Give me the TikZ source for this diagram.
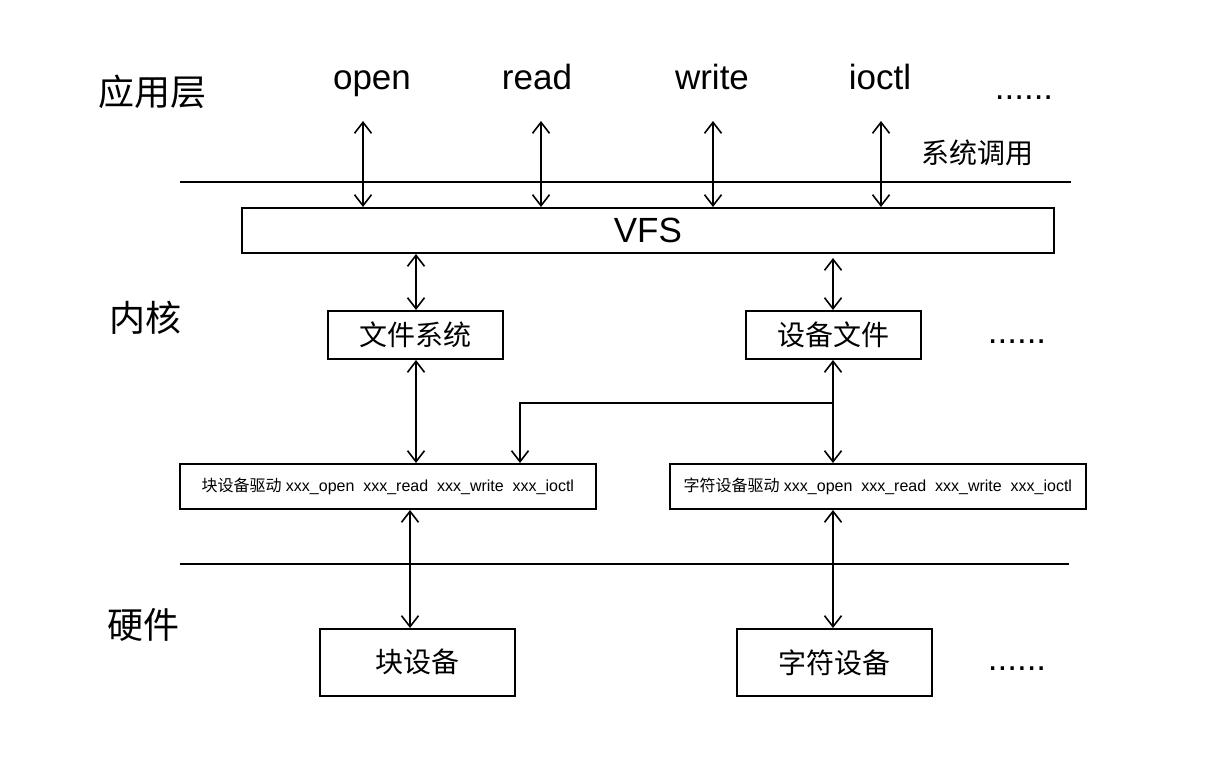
\documentclass[tikz,border=0pt]{standalone}
\usepackage{fontspec}
\setmainfont{Liberation Sans}
\newfontfamily\cjk{Noto Sans CJK SC}
\usetikzlibrary{arrows.meta}
\begin{document}
\begin{tikzpicture}[x=1pt,y=-1pt,
  box/.style={draw,line width=1.6pt,inner sep=0pt,anchor=north west},
  tip/.tip={Straight Barb[length=11pt,width=17pt,line width=1.6pt]},
  conn/.style={line width=1.6pt,tip-tip},
  oneway/.style={line width=1.6pt,-tip},
  sep/.style={line width=1.6pt},
  big/.style={font=\fontsize{35}{38}\selectfont},
  bigc/.style={font=\cjk\fontsize{36}{38}\selectfont},
  mid/.style={font=\cjk\fontsize{28}{30}\selectfont},
  small/.style={font=\fontsize{16}{18}\selectfont}]
\useasboundingbox (0,0) rectangle (1206,771);
% layer labels
\node[bigc] (app) at (152,92) {应用层};
\node[bigc] (kern) at (145,318) {内核};
\node[bigc] (hw) at (143,625) {硬件};
% system calls
\node[big,anchor=base] (open) at (372,89) {open};
\node[big,anchor=base] (read) at (537,89) {read};
\node[big,anchor=base] (write) at (712,89) {write};
\node[big,anchor=base] (ioctl) at (880,89) {ioctl};
\node[big,anchor=base] (dots1) at (1024,99) {......};
\node[mid] (syscall) at (977,153) {系统调用};
% separators
\coordinate (s1a) at (180,182); \coordinate (s1b) at (1071,182);
\draw[sep] (s1a) -- (s1b);
\coordinate (s2a) at (180,564); \coordinate (s2b) at (1069,564);
\draw[sep] (s2a) -- (s2b);
% VFS
\node[box,minimum width=812pt,minimum height=45pt] (vfs) at (241,207) {};
\node[big] at (vfs.center) {VFS};
% kernel boxes
\node[box,minimum width=175pt,minimum height=48pt] (fs) at (327,310) {};
\node[mid] at (fs.center) {文件系统};
\node[box,minimum width=175pt,minimum height=48pt] (devf) at (745,310) {};
\node[mid] at (devf.center) {设备文件};
\node[big,anchor=base] (dots2) at (1017,343) {......};
% drivers
\node[box,minimum width=416pt,minimum height=45pt] (bdrv) at (179,463) {};
\node[small] at (bdrv.center) {{\cjk 块设备驱动} xxx\_open\ \ xxx\_read\ \ xxx\_write\ \ xxx\_ioctl};
\node[box,minimum width=416pt,minimum height=45pt] (cdrv) at (669,463) {};
\node[small] at (cdrv.center) {{\cjk 字符设备驱动} xxx\_open\ \ xxx\_read\ \ xxx\_write\ \ xxx\_ioctl};
% hardware
\node[box,minimum width=195pt,minimum height=67pt] (bdev) at (319,628) {};
\node[mid] at (bdev.center) {块设备};
\node[box,minimum width=195pt,minimum height=67pt] (cdev) at (736,628) {};
\node[mid] at (cdev.center) {字符设备};
\node[big,anchor=base] (dots3) at (1017,670) {......};
% syscall arrows
\foreach \n/\x in {a/363,b/541,c/713,d/881}{
  \coordinate (t\n) at (\x,121);
  \draw[conn] (t\n) -- (t\n |- vfs.north);
}
% VFS to kernel boxes
\coordinate (v1) at (416,254); \coordinate (v2) at (833,258);
\draw[conn] (v1) -- (v1 |- fs.north);
\draw[conn] (v2) -- (v2 |- devf.north);
% kernel boxes to drivers
\coordinate (f1) at (416,360); \coordinate (d1) at (833,360);
\draw[conn] (f1) -- (f1 |- bdrv.north);
\draw[conn] (d1) -- (d1 |- cdrv.north);
\coordinate (br) at (833,403); \coordinate (bl) at (520,403);
\draw[oneway] (br) -- (bl) -- (bl |- bdrv.north);
% drivers to hardware
\coordinate (h1) at (410,510); \coordinate (h2) at (833,510);
\draw[conn] (h1) -- (h1 |- bdev.north);
\draw[conn] (h2) -- (h2 |- cdev.north);
\end{tikzpicture}
\end{document}
